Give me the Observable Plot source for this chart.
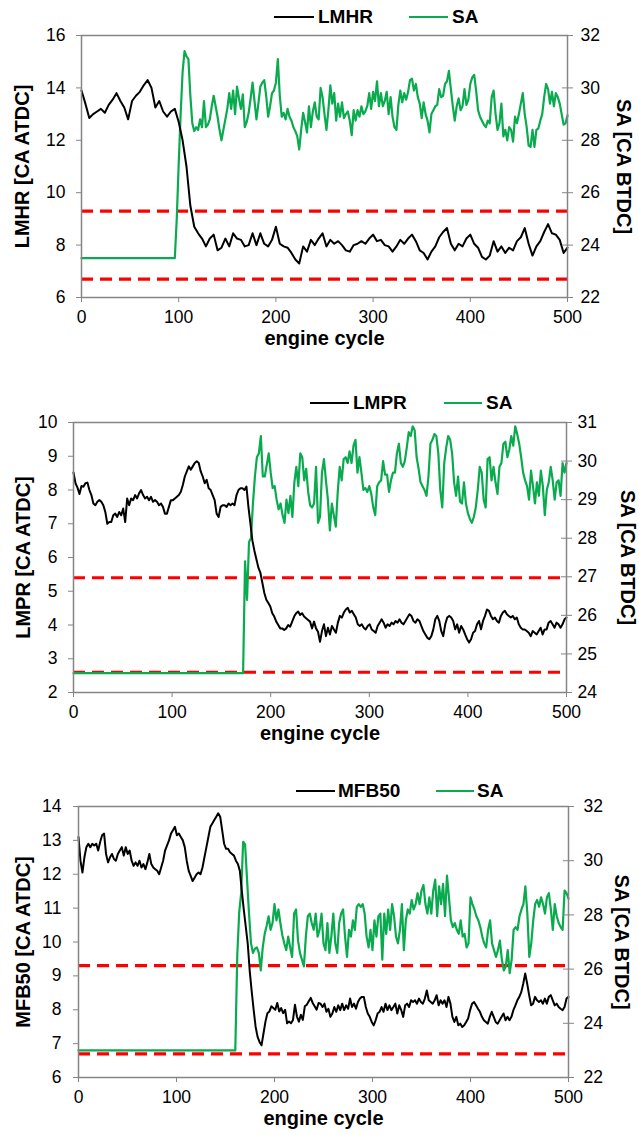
<!DOCTYPE html>
<html>
<head>
<meta charset="utf-8">
<script src="https://cdn.jsdelivr.net/npm/d3@7"></script>
<script src="https://cdn.jsdelivr.net/npm/@observablehq/plot@0.6"></script>
<style>
  html, body { margin: 0; padding: 0; background: #fff; }
  body { font-family: "Liberation Sans", Arial, sans-serif; }
  #root { position: relative; width: 639px; height: 1135px; overflow: hidden; background: #fff; }
  .panel { position: absolute; left: 0; }
  .lg-line { position: absolute; height: 2px; }
  .lg-text { position: absolute; font-size: 19px; font-weight: bold; line-height: 22px; white-space: nowrap; color: #000; }
</style>
</head>
<body>
<div id="root"></div>
<script>
// ---------------- DATA ----------------
const cycleTicks = [0, 100, 200, 300, 400, 500];
const xTitle = "engine cycle";

// Panel 1: LMHR (left) and SA (right)
const lmhrTicks = [6, 8, 10, 12, 14, 16];
const sa1Ticks = [22, 24, 26, 28, 30, 32];
const lmhrLimits = [9.3, 6.7];
// LMHR, cycles 0..500 (step 4)
const lmhr = [
  13.9, 13.4, 12.85, 13.0, 13.1, 13.2, 13.05, 13.35, 13.55, 13.8,
  13.5, 13.25, 12.8, 13.5, 13.7, 13.85, 14.1, 14.3, 14.0, 13.25,
  13.5, 13.1, 12.9, 13.1, 13.2, 12.7, 12.0, 11.0, 9.5, 8.7,
  8.45, 8.25, 7.95, 8.25, 8.4, 7.8, 7.9, 8.25, 7.95, 8.45,
  8.25, 8.2, 7.95, 8.0, 8.45, 8.0, 8.45, 8.05, 7.95, 8.2,
  8.7, 8.05, 7.95, 7.9, 7.7, 7.45, 7.3, 7.95, 7.75, 8.2,
  8.0, 8.25, 8.45, 7.95, 8.2, 8.05, 8.15, 8.0, 7.8, 7.75,
  8.0, 8.05, 8.15, 8.05, 8.25, 8.4, 8.15, 8.2, 8.0, 7.95,
  7.75, 7.95, 8.2, 8.05, 8.25, 8.4, 8.15, 7.8, 7.7, 7.45,
  7.75, 7.95, 8.3, 8.5, 8.65, 8.05, 7.8, 8.05, 7.95, 8.25,
  8.4, 8.05, 7.9, 7.55, 7.45, 7.6, 8.15, 7.75, 7.95, 7.7,
  7.9, 7.8, 8.15, 8.3, 8.65, 8.05, 7.6, 7.95, 8.15, 8.5,
  8.8, 8.45, 8.4, 8.2, 7.7, 7.9
];
const sa1Base = 23.5;      // SA from cycle 0
const sa1From = 96;        // values below start at this cycle (step 2) up to 500
const sa1 = [
  23.5, 25.0, 27.1, 29.0, 30.6, 31.4, 31.2, 31.1, 29.7, 28.65,
  28.35, 28.5, 28.4, 28.8, 28.5, 29.5, 28.5, 28.6, 28.8, 29.3,
  29.7, 29.3, 28.9, 28.4, 28.0, 28.4, 28.8, 29.2, 29.8, 29.2,
  29.9, 29.0, 30.05, 29.6, 29.2, 29.75, 28.5, 28.7, 29.05, 29.6,
  30.2, 29.5, 28.8, 29.4, 30.05, 30.2, 30.3, 29.7, 28.9, 29.3,
  29.8, 29.9, 30.2, 31.1, 29.7, 28.9, 29.05, 28.8, 29.2, 28.9,
  28.75, 28.5, 28.35, 28.15, 27.65, 28.4, 29.05, 28.7, 28.3, 29.3,
  28.5, 29.1, 29.45, 28.9, 28.8, 30.0, 29.65, 29.0, 28.4, 29.15,
  30.1, 29.4, 29.8, 28.75, 29.4, 28.9, 29.45, 28.85, 29.0, 29.1,
  28.75, 28.2, 29.15, 28.75, 29.15, 28.9, 29.3, 29.0, 29.1, 29.3,
  29.8, 29.2, 29.85, 29.5, 30.25, 29.3, 29.8, 29.3, 29.5, 29.85,
  29.0, 29.65, 28.9, 28.5, 28.4, 29.35, 29.9, 29.45, 29.8, 29.55,
  29.85, 30.3, 30.35, 29.9, 30.15, 29.65, 29.4, 28.85, 29.45, 29.0,
  28.75, 28.3, 29.0, 29.15, 29.3, 29.35, 29.95, 29.65, 29.7, 30.15,
  30.25, 30.65, 29.95, 29.3, 28.75, 29.3, 29.6, 29.15, 29.3, 29.95,
  29.35, 29.55, 30.15, 30.4, 30.5, 29.9, 29.15, 28.9, 28.75, 28.6,
  28.5, 28.75, 28.65, 29.65, 29.9, 29.0, 28.4, 28.65, 29.4, 28.15,
  28.4, 28.0, 28.5, 28.4, 27.95, 28.9, 28.65, 29.0, 29.4, 29.8,
  29.0, 28.5, 27.8, 27.75, 28.4, 27.75, 28.4, 28.45, 28.75, 29.0,
  29.65, 30.15, 29.95, 29.4, 29.85, 29.3, 29.8, 29.65, 29.4, 29.0,
  28.6, 28.65, 28.95
];

// Panel 2: LMPR (left) and SA (right)
const lmprTicks = [2, 3, 4, 5, 6, 7, 8, 9, 10];
const sa2Ticks = [24, 25, 26, 27, 28, 29, 30, 31];
const lmprLimits = [5.4, 2.6];
// LMPR, cycles 0..500 (about every 2 cycles)
const lmpr = [
  8.52, 8.2, 8.07, 7.88, 8.12, 8.1, 8.2, 8.22, 8.0, 7.85,
  7.6, 7.55, 7.65, 7.7, 7.65, 7.55, 7.35, 7.0, 7.05, 7.05,
  7.25, 7.3, 7.2, 7.35, 7.25, 7.45, 7.05, 7.75, 7.55, 7.75,
  7.7, 7.85, 7.75, 7.9, 8.0, 7.85, 7.75, 7.8, 7.7, 7.8,
  7.65, 7.7, 7.65, 7.55, 7.6, 7.5, 7.3, 7.3, 7.5, 7.7,
  7.7, 7.75, 7.8, 7.85, 7.95, 8.15, 8.4, 8.55, 8.7, 8.6,
  8.7, 8.8, 8.85, 8.8, 8.55, 8.4, 8.2, 8.3, 8.05, 8.0,
  7.85, 7.7, 7.3, 7.2, 7.5, 7.55, 7.55, 7.5, 7.6, 7.55,
  7.6, 7.55, 7.85, 8.0, 8.05, 8.05, 8.0, 8.1, 7.5, 7.0,
  6.5, 6.2, 5.95, 5.7, 5.55, 5.25, 4.95, 4.75, 4.65, 4.55,
  4.35, 4.25, 4.1, 4.0, 3.9, 3.9, 3.85, 3.9, 4.0, 3.95,
  4.1, 4.25, 4.35, 4.4, 4.3, 4.35, 4.25, 4.2, 4.15, 4.1,
  3.9, 4.1, 3.9, 3.8, 3.5,
  3.82, 4.02, 3.67, 3.92, 3.72, 3.97, 3.87, 3.77, 4.07, 4.27,
  4.22, 4.37, 4.46, 4.51, 4.37, 4.42, 4.32, 4.22, 4.02, 3.97,
  4.02, 3.92, 3.87, 3.97, 4.02, 3.87, 3.82, 3.77, 3.97, 4.07,
  4.17, 4.07, 3.92, 4.02, 3.97, 4.07, 4.02, 4.12, 4.07, 4.17,
  4.07, 4.02, 4.12, 4.22, 4.32, 4.27, 4.12, 4.07, 4.17, 4.12,
  3.97, 3.82, 3.72, 3.62, 3.58, 3.67, 3.87, 4.17, 4.27, 4.12,
  3.82, 3.67, 4.02, 4.22, 4.27, 4.22, 4.12, 3.87, 4.02, 3.77,
  3.97, 3.87, 3.72, 3.58, 3.48, 3.58, 3.77, 3.82, 4.02, 4.12,
  3.87, 4.12, 4.27, 4.46, 4.42, 4.27, 4.17, 4.22, 4.12, 4.07,
  4.27, 4.37, 4.42, 4.32, 4.27, 4.22, 4.27, 4.17, 4.22, 4.02,
  3.92, 3.87, 3.87, 3.82, 3.77, 3.67, 3.82, 3.77, 3.72, 3.82,
  3.92, 3.72, 3.87, 3.87, 4.07, 4.12, 4.02, 3.92, 4.07, 4.02,
  3.92, 4.02, 4.17, 4.22
];
const sa2Base = 24.5;
const sa2From = 172;       // step 2 up to 500
const sa2 = [
  24.5, 27.4, 26.4, 27.9, 28.0, 28.9, 29.6, 30.1, 30.2, 30.65,
  29.6, 29.6, 29.9, 30.2, 29.7, 29.3, 29.35, 29.0, 28.75, 28.9,
  28.6, 28.4, 29.0, 28.65, 29.1, 28.55, 29.45, 29.85, 29.35, 30.2,
  30.1, 29.5, 29.8, 29.2, 28.85, 28.8, 28.9, 29.85, 28.4, 28.55,
  29.7, 30.05, 29.5, 29.0, 28.2, 28.9, 28.6, 28.3, 29.2, 29.85,
  29.5, 30.05, 30.1, 29.95, 30.25, 29.95, 30.4, 30.55, 29.7, 30.1,
  29.7, 29.25, 29.3, 29.2, 29.35, 29.15, 28.8, 28.6, 29.35, 29.45,
  29.5, 30.0, 29.65, 29.65, 29.2, 29.5, 29.7, 29.7, 30.2, 30.45,
  29.95, 29.85, 30.0, 30.35, 30.75, 30.65, 30.9, 30.8, 30.1, 29.8,
  29.45, 29.35, 29.25, 29.1, 29.6, 30.45, 30.55, 30.7, 30.65, 30.2,
  29.25, 28.8, 29.95, 30.35, 30.65, 30.55, 30.2, 29.45, 29.1, 29.6,
  28.95, 28.9, 29.45, 28.9, 28.65, 28.5, 28.4, 28.55, 28.8, 29.25,
  29.85, 29.7, 29.0, 28.8, 30.05, 30.1, 29.5, 29.85, 29.45, 29.15,
  29.85, 29.95, 30.45, 30.5, 30.1, 30.3, 30.65, 30.4, 30.9, 30.7,
  30.45, 30.1, 29.7, 29.5, 29.35, 29.0, 29.75, 29.35, 28.9, 29.45,
  29.1, 29.75, 29.35, 28.6, 29.25, 29.45, 29.85, 29.5, 29.0, 29.45,
  29.5, 29.1, 29.95, 29.7, 29.95
];

// Panel 3: MFB50 (left) and SA (right)
const mfbTicks = [6, 7, 8, 9, 10, 11, 12, 13, 14];
const sa3Ticks = [22, 24, 26, 28, 30, 32];
const mfbLimits = [9.3, 6.7];
// MFB50, cycles 0..500 (about every 2 cycles)
const mfb50 = [
  13.1, 12.4, 12.05, 12.5, 12.8, 12.9, 12.8, 12.9, 12.85, 12.9,
  12.7, 12.95, 13.15, 13.2, 12.6, 12.35, 12.5, 12.6, 12.45, 12.4,
  12.6, 12.7, 12.8, 12.55, 12.8, 12.6, 12.7, 12.4, 12.25, 12.35,
  12.25, 12.4, 12.2, 12.3, 12.15, 12.35, 12.6, 12.3, 12.2, 12.15,
  12.1, 12.0, 12.2, 12.4, 12.7, 12.85, 13.0, 13.2, 13.3, 13.4,
  13.15, 13.2, 13.1, 13.0, 12.8, 12.4, 12.1, 11.95, 11.8, 11.9,
  12.0, 12.05, 12.0, 12.2, 12.5, 12.8, 13.1, 13.4, 13.5, 13.6,
  13.7, 13.8, 13.7, 13.3, 12.9, 12.75, 12.75, 12.65, 12.6, 12.55,
  12.4, 12.3, 12.1, 11.5, 10.95, 10.45, 9.95, 9.15, 8.55, 8.0,
  7.5, 7.2, 7.05, 6.95, 7.3, 7.65, 7.9, 7.95, 8.1, 8.05,
  8.0, 8.2, 7.95, 8.05, 7.9, 8.0, 7.6, 7.65, 7.6, 7.7,
  8.15, 7.8, 7.65, 7.85, 7.7, 8.1, 8.15, 8.25, 8.35, 8.2,
  8.1, 8.0, 8.2, 8.18, 8.08,
  8.18, 7.94, 8.03, 7.79, 7.89, 8.08, 7.94, 8.13, 7.99, 8.18,
  7.99, 8.13, 8.03, 8.33, 8.08, 8.18, 8.03, 8.23, 8.33, 8.38,
  8.38, 8.08, 7.89, 7.79, 7.64, 7.54, 7.69, 7.89, 7.94, 8.08,
  7.94, 8.18, 7.99, 8.13, 7.99, 8.08, 8.18, 7.89, 8.13, 7.99,
  7.79, 8.13, 8.18, 8.08, 8.28, 8.23, 8.28, 8.18, 8.33, 8.23,
  8.18, 8.33, 8.57, 8.28, 8.23, 8.18, 8.28, 8.43, 8.13, 8.28,
  8.18, 8.28, 8.08, 8.38, 8.18, 7.79, 7.64, 7.79, 7.54, 7.59,
  7.49, 7.54, 7.64, 7.74, 7.99, 8.18, 8.23, 8.13, 8.03, 7.94,
  7.79, 7.69, 7.64, 7.59, 7.79, 7.94, 7.79, 7.64, 7.59, 7.69,
  7.79, 7.89, 7.69, 7.79, 7.69, 7.79, 7.99, 8.13, 8.28, 8.38,
  8.52, 8.77, 9.07, 8.77, 8.43, 8.13, 8.18, 8.38, 8.28, 8.23,
  8.28, 8.18, 8.33, 8.18, 8.38, 8.43, 8.28, 8.13, 8.18, 8.08,
  8.03, 7.99, 8.08, 8.33, 8.38
];
const sa3Base = 23.0;
const sa3From = 160;       // step 2 up to 500
const sa3 = [
  23.0, 26.5, 28.1, 28.8, 30.7, 30.6, 29.3, 28.05, 26.95, 26.6,
  26.75, 26.8, 26.6, 25.95, 26.8, 27.3, 27.6, 27.95, 27.45, 27.7,
  28.4, 27.8, 28.2, 27.7, 27.25, 26.95, 26.7, 27.2, 26.8, 26.45,
  28.05, 28.2, 27.05, 26.6, 26.35, 26.1, 27.2, 27.95, 28.05, 27.7,
  27.45, 28.05, 27.2, 27.45, 28.05, 26.95, 26.7, 27.7, 26.6, 27.2,
  28.05, 26.95, 26.6, 27.7, 28.05, 28.2, 27.2, 26.45, 27.45, 27.2,
  27.8, 27.45, 28.3, 28.4, 28.3, 28.4, 28.05, 27.2, 26.8, 27.45,
  26.7, 27.8, 27.2, 27.95, 28.05, 26.35, 28.05, 27.3, 28.2, 27.45,
  28.4, 27.95, 27.2, 26.95, 27.45, 28.4, 26.7, 27.8, 28.2, 28.05,
  28.55, 28.2, 28.4, 28.8, 28.4, 28.9, 29.1, 28.4, 28.05, 28.65,
  28.05, 28.9, 29.3, 27.95, 29.05, 28.4, 29.15, 27.95, 29.45, 28.65,
  27.8, 27.55, 27.7, 27.45, 27.3, 27.8, 27.2, 27.3, 26.8, 26.95,
  28.65, 28.4, 28.2, 27.95, 27.8, 27.55, 27.2, 26.95, 26.8, 27.45,
  27.8, 26.95, 26.7, 26.45, 26.7, 27.05, 26.35, 25.95, 26.1, 26.7,
  25.85, 26.35, 27.45, 27.55, 27.45, 27.95, 28.2, 28.4, 29.05, 28.05,
  26.45, 26.95, 27.8, 28.4, 28.55, 28.3, 28.65, 28.4, 28.05, 28.65,
  28.8, 28.2, 27.45, 28.4, 27.95, 27.7, 27.55, 27.45, 28.9, 28.8,
  28.6
];

// ---------------- HELPERS ----------------
const GREEN = "#0aab4f";
const RED = "#ff0000";
const AXIS_GREY = "#858585";
const FONT = "'Liberation Sans', Arial, Helvetica, sans-serif";
const TITLE_SIZE = 20;

function evenly(values, from, to) {
  const step = (to - from) / (values.length - 1);
  return values.map((v, i) => ({c: from + i * step, v}));
}
function saSeries(base, from, values) {
  return [{c: 0, v: base}, ...evenly(values, from, 500)];
}

const root = document.getElementById("root");

function legend(cy, items) {
  for (const it of items) {
    const ln = document.createElement("div");
    ln.className = "lg-line";
    ln.style.left = it.x0 + "px";
    ln.style.width = (it.x1 - it.x0) + "px";
    ln.style.top = (cy - 1) + "px";
    ln.style.background = it.color;
    root.appendChild(ln);
    const tx = document.createElement("div");
    tx.className = "lg-text";
    tx.style.left = it.tx + "px";
    tx.style.top = (cy - 11) + "px";
    tx.textContent = it.label;
    root.appendChild(tx);
  }
}

function panel(cfg) {
  const {top, mt, frameH, mb, ml, mr, yDomain, yTicks, saDomain, saTicks, limits,
         main, sa, yTitle, rTitle, yTitleX, rTitleX, leftPad, rightPad} = cfg;
  const [y0, y1] = yDomain, [s0, s1] = saDomain;
  const toY = s => y0 + (s - s0) * (y1 - y0) / (s1 - s0);
  const toSA = y => s0 + (y - y0) * (s1 - s0) / (y1 - y0);
  const W = 639;
  const frameW = W - ml - mr;
  const height = mt + frameH + mb;
  const chart = Plot.plot({
    width: W, height,
    marginTop: mt, marginBottom: mb, marginLeft: ml, marginRight: mr,
    style: {fontFamily: FONT, fontSize: "17.5px", color: "black", background: "white", overflow: "visible"},
    x: {domain: [0, 500]},
    y: {domain: yDomain},
    marks: [
      Plot.ruleY(limits, {x1: 0, x2: 500, stroke: RED, strokeWidth: 3.2, strokeDasharray: "12,7"}),
      Plot.lineY(sa, {x: "c", y: d => toY(d.v), stroke: GREEN, strokeWidth: 2.2}),
      Plot.lineY(main, {x: "c", y: "v", stroke: "black", strokeWidth: 2}),
      Plot.frame({stroke: AXIS_GREY, strokeWidth: 1.5}),
      Plot.axisX({ticks: cycleTicks, tickSize: 5, tickPadding: 8, stroke: AXIS_GREY, fill: "black", label: null, tickFormat: d => String(d)}),
      Plot.axisY({ticks: yTicks, tickSize: 5, tickPadding: leftPad, stroke: AXIS_GREY, fill: "black", label: null, tickFormat: d => String(d)}),
      Plot.axisY({anchor: "right", ticks: saTicks.map(toY), tickSize: 5, tickPadding: rightPad, stroke: AXIS_GREY, fill: "black", label: null,
                  tickFormat: d => String(Math.round(toSA(d)))}),
      Plot.ruleY(saTicks.map(toY), {insetLeft: frameW - 5, stroke: AXIS_GREY, strokeWidth: 1}),
      Plot.text([xTitle], {frameAnchor: "bottom", dy: 47, textAnchor: "middle", fontSize: TITLE_SIZE, fontWeight: "bold", fill: "black"}),
      Plot.text([yTitle], {frameAnchor: "left", dx: yTitleX - ml, rotate: -90, textAnchor: "middle", fontSize: TITLE_SIZE, fontWeight: "bold", fill: "black"}),
      Plot.text([rTitle], {frameAnchor: "right", dx: rTitleX - (W - mr), rotate: 90, textAnchor: "middle", fontSize: TITLE_SIZE, fontWeight: "bold", fill: "black"})
    ]
  });
  const wrap = document.createElement("div");
  wrap.className = "panel";
  wrap.style.top = top + "px";
  wrap.appendChild(chart);
  root.appendChild(wrap);
}

// ---------------- PANEL 1 ----------------
legend(17, [
  {x0: 274, x1: 314, tx: 318, label: "LMHR", color: "#000"},
  {x0: 409, x1: 448, tx: 452, label: "SA", color: GREEN}
]);
panel({
  top: 24, mt: 11, frameH: 262, mb: 62, ml: 81, mr: 72,
  yDomain: [6, 16], yTicks: lmhrTicks, saDomain: [22, 32], saTicks: sa1Ticks,
  limits: lmhrLimits, main: evenly(lmhr, 0, 500), sa: saSeries(sa1Base, sa1From, sa1),
  yTitle: "LMHR [CA ATDC]", rTitle: "SA [CA BTDC]", yTitleX: 22, rTitleX: 623,
  leftPad: 11, rightPad: 8
});

// ---------------- PANEL 2 ----------------
legend(403, [
  {x0: 310, x1: 349, tx: 353, label: "LMPR", color: "#000"},
  {x0: 444, x1: 482, tx: 486, label: "SA", color: GREEN}
]);
panel({
  top: 410, mt: 12, frameH: 270, mb: 60, ml: 73, mr: 73,
  yDomain: [2, 10], yTicks: lmprTicks, saDomain: [24, 31], saTicks: sa2Ticks,
  limits: lmprLimits, main: evenly(lmpr, 0, 500), sa: saSeries(sa2Base, sa2From, sa2),
  yTitle: "LMPR [CA ATDC]", rTitle: "SA [CA BTDC]", yTitleX: 23, rTitleX: 627,
  leftPad: 11, rightPad: 6
});

// ---------------- PANEL 3 ----------------
legend(791, [
  {x0: 296, x1: 335, tx: 338, label: "MFB50", color: "#000"},
  {x0: 436, x1: 474, tx: 477, label: "SA", color: GREEN}
]);
panel({
  top: 798, mt: 8, frameH: 271, mb: 58, ml: 78, mr: 71,
  yDomain: [6, 14], yTicks: mfbTicks, saDomain: [22, 32], saTicks: sa3Ticks,
  limits: mfbLimits, main: evenly(mfb50, 0, 500), sa: saSeries(sa3Base, sa3From, sa3),
  yTitle: "MFB50 [CA ATDC]", rTitle: "SA [CA BTDC]", yTitleX: 23, rTitleX: 621,
  leftPad: 12, rightPad: 10
});
</script>
</body>
</html>
